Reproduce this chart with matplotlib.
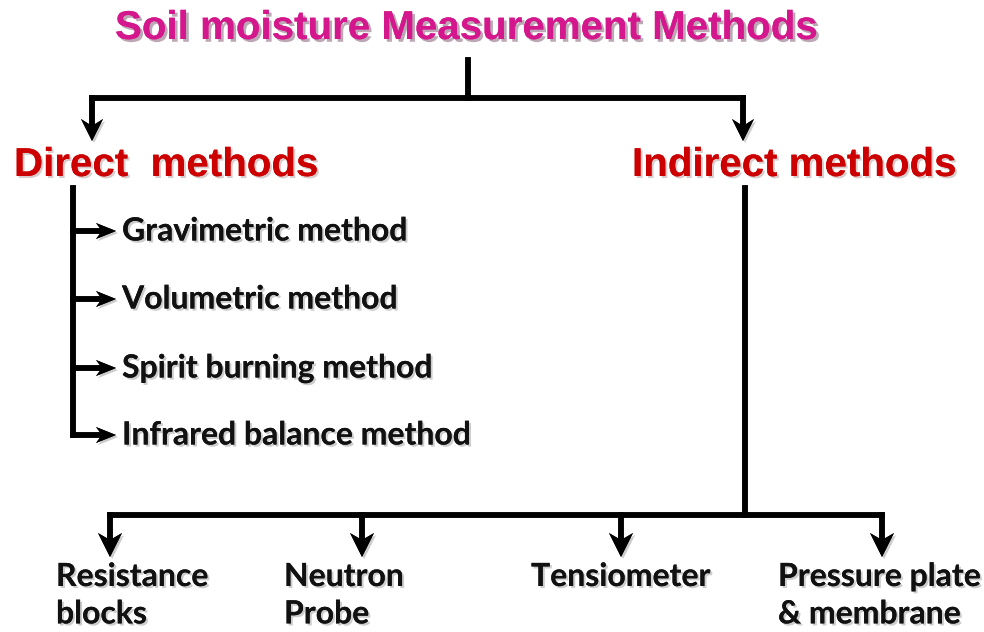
import matplotlib.pyplot as plt
import matplotlib.patheffects as pe

# diagram content
title = "Soil moisture Measurement Methods"
branches = ["Direct  methods", "Indirect methods"]
direct_items = ["Gravimetric method", "Volumetric method",
                "Spirit burning method", "Infrared balance method"]
direct_y = [231, 299, 368, 435]
indirect_items = ["Resistance\nblocks", "Neutron\nProbe", "Tensiometer",
                  "Pressure plate\n& membrane"]
indirect_x = [110, 362, 621, 882]
indirect_label_x = [56, 284, 531, 778]

LW = 4.0
shadow = [pe.withSimplePatchShadow(offset=(1.5, -1.5), alpha=0.2), pe.Normal()]

fig = plt.figure(figsize=(9.84, 6.32), dpi=100)
ax = fig.add_axes([0, 0, 1, 1])
ax.set_xlim(0, 984)
ax.set_ylim(632, 0)
ax.axis("off")


def line(xs, ys):
    ax.plot(xs, ys, color="black", lw=LW, solid_capstyle="projecting",
            path_effects=shadow)


def arrow_down(x, y0, y1, hl=24, hw=12):
    line([x, x], [y0, y1 - hl + 4])
    ax.fill([x - hw, x, x + hw, x], [y1 - hl, y1, y1 - hl, y1 - hl + 7],
            color="black", lw=0, path_effects=shadow)


def arrow_right(y, x0, x1, hl=20, hw=8):
    line([x0, x1 - hl + 4], [y, y])
    ax.fill([x1 - hl, x1, x1 - hl, x1 - hl + 6], [y - hw, y, y + hw, y],
            color="black", lw=0, path_effects=shadow)


# title
ax.text(466, 28, title, ha="center", va="center", fontsize=29,
        fontweight="bold", family="Liberation Sans", color="#d4178c",
        path_effects=[pe.withSimplePatchShadow(offset=(2, -2), alpha=0.35), pe.Normal()])

# top split
line([468, 468], [60, 98])
line([92, 743], [98, 98])
arrow_down(92, 98, 141, hl=22, hw=11)
arrow_down(743, 98, 141, hl=22, hw=11)

# branch headings
for x, label in zip([14, 632], branches):
    ax.text(x, 165, label, ha="left", va="center", fontsize=29,
            fontweight="bold", family="Liberation Sans", color="#cc0000",
            path_effects=shadow)

# direct methods
line([73, 73], [188, direct_y[-1]])
for y, label in zip(direct_y, direct_items):
    arrow_right(y, 73, 116)
    ax.text(122, y, label, ha="left", va="center", fontsize=23,
            fontweight="bold", family="Lato", color="#111111",
            path_effects=shadow)

# indirect methods
line([745, 745], [188, 515])
line([110, 882], [515, 515])
for x, lx, label in zip(indirect_x, indirect_label_x, indirect_items):
    arrow_down(x, 515, 557)
    ax.text(lx, 562, label, ha="left", va="top", fontsize=23,
            fontweight="bold", family="Lato", color="#111111",
            linespacing=1.35, path_effects=shadow)

fig.savefig("out.png", dpi=100)
